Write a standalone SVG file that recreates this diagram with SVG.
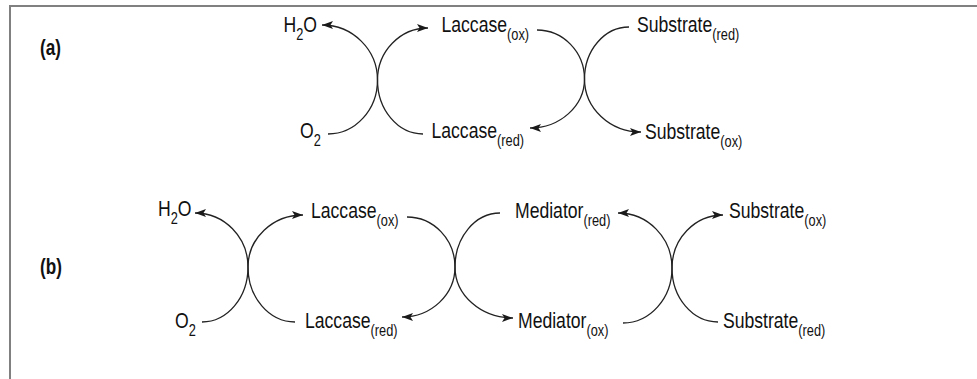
<svg xmlns="http://www.w3.org/2000/svg" width="977" height="379" viewBox="0 0 977 379">
  <style>
    .lbl { font-family: "Liberation Sans", Arial, sans-serif; font-size: 22px; fill: #111; }
    .panel { font-weight: bold; }
    .sub { font-size: 16px; }
    .arc { fill: none; stroke: #222; stroke-width: 1.3; }
    .arr { marker-end: url(#head); }
    .frame { stroke: #808080; stroke-width: 2; fill: none; }
  </style>
  <defs>
    <marker id="head" markerUnits="userSpaceOnUse" markerWidth="12" markerHeight="8" refX="11" refY="4" orient="auto">
      <path d="M0,0 L11,4 L0,8 L2.5,4 z" fill="#1a1a1a"/>
    </marker>
  </defs>

  <rect width="977" height="379" fill="#fff"/>
  <!-- panel frame: top and left edges -->
  <path class="frame" d="M9,6 H977 M10,5 V379"/>

  <!-- panel labels -->
  <g id="label-a" transform="translate(40,55)"><text class="lbl panel" transform="scale(0.78,1)">(a)</text></g>
  <g id="label-b" transform="translate(40,274)"><text class="lbl panel" transform="scale(0.78,1)">(b)</text></g>

  <!-- (a) laccase only -->
  <g id="a-h2o" transform="translate(283.5,31.5)"><text class="lbl" transform="scale(0.8,1)">H<tspan class="sub" dy="8">2</tspan><tspan dy="-8">O</tspan></text></g>
  <g id="a-laccase-ox" transform="translate(441.5,31.5)"><text class="lbl" transform="scale(0.8,1)">Laccase<tspan class="sub" dy="8">(ox)</tspan></text></g>
  <g id="a-substrate-red" transform="translate(637,32)"><text class="lbl" transform="scale(0.8,1)">Substrate<tspan class="sub" dy="8">(red)</tspan></text></g>
  <g id="a-o2" transform="translate(300,137.5)"><text class="lbl" transform="scale(0.8,1)">O<tspan class="sub" dy="8">2</tspan></text></g>
  <g id="a-laccase-red" transform="translate(431.5,138)"><text class="lbl" transform="scale(0.8,1)">Laccase<tspan class="sub" dy="8">(red)</tspan></text></g>
  <g id="a-substrate-ox" transform="translate(645,138.5)"><text class="lbl" transform="scale(0.8,1)">Substrate<tspan class="sub" dy="8">(ox)</tspan></text></g>

  <!-- (b) laccase-mediator system -->
  <g id="b-h2o" transform="translate(158,216)"><text class="lbl" transform="scale(0.8,1)">H<tspan class="sub" dy="8">2</tspan><tspan dy="-8">O</tspan></text></g>
  <g id="b-laccase-ox" transform="translate(311,218)"><text class="lbl" transform="scale(0.8,1)">Laccase<tspan class="sub" dy="8">(ox)</tspan></text></g>
  <g id="b-mediator-red" transform="translate(515,218)"><text class="lbl" transform="scale(0.8,1)">Mediator<tspan class="sub" dy="8">(red)</tspan></text></g>
  <g id="b-substrate-ox" transform="translate(729,218)"><text class="lbl" transform="scale(0.8,1)">Substrate<tspan class="sub" dy="8">(ox)</tspan></text></g>
  <g id="b-o2" transform="translate(175,328)"><text class="lbl" transform="scale(0.8,1)">O<tspan class="sub" dy="8">2</tspan></text></g>
  <g id="b-laccase-red" transform="translate(305,328)"><text class="lbl" transform="scale(0.8,1)">Laccase<tspan class="sub" dy="8">(red)</tspan></text></g>
  <g id="b-mediator-ox" transform="translate(518,328)"><text class="lbl" transform="scale(0.8,1)">Mediator<tspan class="sub" dy="8">(ox)</tspan></text></g>
  <g id="b-substrate-red" transform="translate(723,328)"><text class="lbl" transform="scale(0.8,1)">Substrate<tspan class="sub" dy="8">(red)</tspan></text></g>

  <!-- coupled redox arcs -->
  <g id="connectors">
    <!-- (a) -->
    <path class="arc arr" d="M328,134 C355.3,134 377.5,109.8 377.5,80 C377.5,49.6 352.6,25 322,25"/>
    <path class="arc arr" d="M423,134 C397.9,134 377.5,109.8 377.5,80 C377.5,51.3 400.1,28 428,28"/>
    <path class="arc arr" d="M537,30 C563.2,30 584.5,51.9 584.5,79 C584.5,106 560.1,128 530,128"/>
    <path class="arc arr" d="M629,27 C604.4,27 584.5,50.3 584.5,79 C584.5,108.3 609.8,132 641,132"/>
    <!-- (b) -->
    <path class="arc arr" d="M202,322 C227.4,322 248,297.4 248,267 C248,237.2 224.3,213 195,213"/>
    <path class="arc arr" d="M295,322 C269.1,322 248,297.4 248,267 C248,238.3 272.6,215 303,215"/>
    <path class="arc arr" d="M407,217 C433.5,217 455,239.4 455,267 C455,294.6 431.3,317 402,317"/>
    <path class="arc arr" d="M500,213 C475.2,213 455,237.2 455,267 C455,295.2 481,318 513,318"/>
    <path class="arc arr" d="M623,323 C650,323 672,298.4 672,268 C672,237.6 647.8,213 618,213"/>
    <path class="arc arr" d="M718,322 C692.6,322 672,297.8 672,268 C672,238.7 694.8,215 723,215"/>
  </g>
</svg>
